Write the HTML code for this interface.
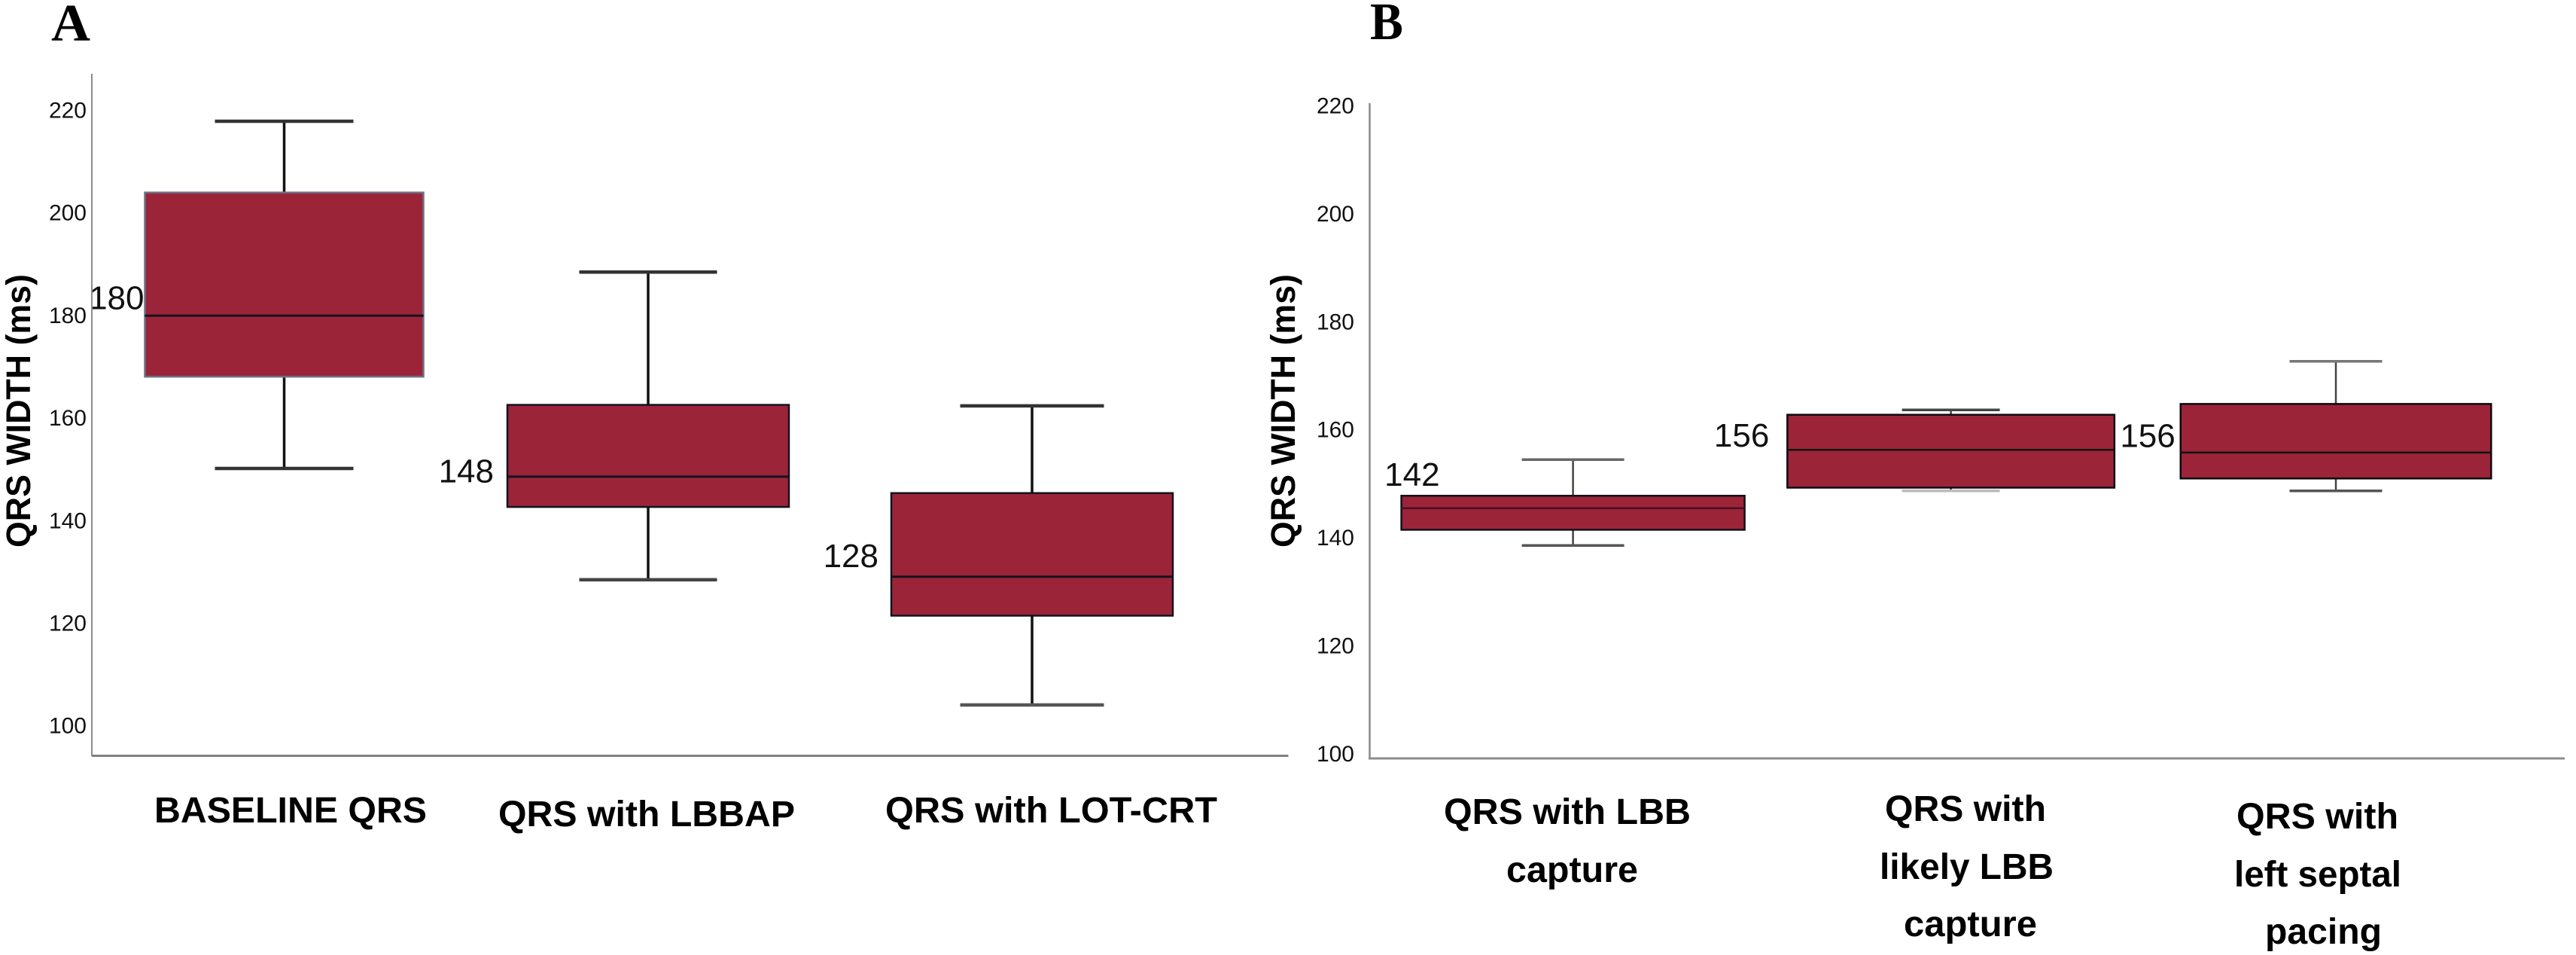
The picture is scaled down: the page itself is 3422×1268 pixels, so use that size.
<!DOCTYPE html>
<html lang="en">
<head>
<meta charset="utf-8">
<title>QRS width box plots</title>
<style>
html,body{margin:0;padding:0;background:#fff;width:3422px;height:1268px;overflow:hidden}
svg{display:block;font-family:"Liberation Sans",sans-serif}
</style>
</head>
<body>
<svg id="figure" xmlns="http://www.w3.org/2000/svg" width="3422" height="1268" viewBox="0 0 3422 1268">
  <rect width="3422" height="1268" fill="#fff"/>
  <text x="68" y="54" font-family="Liberation Serif, serif" font-weight="700" font-size="70" textLength="52" lengthAdjust="spacingAndGlyphs">A</text>
  <text x="1820" y="52" font-family="Liberation Serif, serif" font-weight="700" font-size="70" textLength="44" lengthAdjust="spacingAndGlyphs">B</text>

  <g>
    <g id="a-marks"></g>
    <line x1="122" y1="98" x2="122" y2="1004" stroke="#8c8c8c" stroke-width="2"/>
    <line x1="122" y1="1003.5" x2="1711.5" y2="1003.5" stroke="#808080" stroke-width="3"/>
    <text transform="translate(40,727) rotate(-90)" font-weight="700" font-size="45" textLength="363" lengthAdjust="spacingAndGlyphs">QRS WIDTH (ms)</text>
    <text x="205" y="1092" font-weight="700" font-size="48" textLength="362" lengthAdjust="spacingAndGlyphs">BASELINE QRS</text>
    <text x="662" y="1097" font-weight="700" font-size="48" textLength="394" lengthAdjust="spacingAndGlyphs">QRS with LBBAP</text>
    <text x="1176" y="1092" font-weight="700" font-size="48" textLength="441" lengthAdjust="spacingAndGlyphs">QRS with LOT-CRT</text>
  </g>

  <g>
    <g id="b-marks"></g>
    <line x1="1819.5" y1="137" x2="1819.5" y2="1008" stroke="#8c8c8c" stroke-width="2.5"/>
    <line x1="1818" y1="1007" x2="3407" y2="1007" stroke="#8c8c8c" stroke-width="3"/>
    <text transform="translate(1720,727) rotate(-90)" font-weight="700" font-size="45" textLength="363" lengthAdjust="spacingAndGlyphs">QRS WIDTH (ms)</text>
    <g font-weight="700" font-size="48">
      <text x="1918" y="1094" textLength="328" lengthAdjust="spacingAndGlyphs">QRS with LBB</text>
      <text x="2001" y="1171" textLength="175" lengthAdjust="spacingAndGlyphs">capture</text>
    </g>
    <g font-weight="700" font-size="48">
      <text x="2504" y="1090" textLength="214" lengthAdjust="spacingAndGlyphs">QRS with</text>
      <text x="2497" y="1167" textLength="231" lengthAdjust="spacingAndGlyphs">likely LBB</text>
      <text x="2529" y="1243" textLength="177" lengthAdjust="spacingAndGlyphs">capture</text>
    </g>
    <g font-weight="700" font-size="48">
      <text x="2971" y="1100" textLength="215" lengthAdjust="spacingAndGlyphs">QRS with</text>
      <text x="2968" y="1177" textLength="222" lengthAdjust="spacingAndGlyphs">left septal</text>
      <text x="3009" y="1253" textLength="155" lengthAdjust="spacingAndGlyphs">pacing</text>
    </g>
  </g>
</svg>
<script>
// ---- data ----
const tickValues = [220, 200, 180, 160, 140, 120, 100];

const aWhiskerHigh = [217.8, 188.4, 162.3];
const aQ3          = [203.9, 162.5, 145.3];
const aMedian      = [179.9, 148.5, 129.0];
const aQ1          = [168.0, 142.6, 121.4];
const aWhiskerLow  = [150.1, 128.4, 104.0];
const aPrinted     = [180, 148, 128];

const bWhiskerHigh = [154.7, 163.9, 172.9];
const bQ3          = [148.0, 163.0, 165.0];
const bMedian      = [145.7, 156.5, 156.0];
const bQ1          = [141.7, 149.5, 151.2];
const bWhiskerLow  = [138.8, 148.9, 148.9];
const bPrinted     = [142, 156, 156];

// ---- axis functions ----
function yA(v) { return 146 + (220 - v) * 6.81; }
function yB(v) { return 142 + (220 - v) * 7.17; }
function xA(i) { return 377.5 + i * 483.5 + (i === 2 ? 26.5 : 0); }
function xB(i) { return 2089.6 + i * 502 + (i === 2 ? 9.4 : 0); }

const NS = 'http://www.w3.org/2000/svg';
function make(parent, tag, attrs) {
  const el = document.createElementNS(NS, tag);
  for (const k in attrs) el.setAttribute(k, attrs[k]);
  parent.appendChild(el);
  return el;
}

function drawPanel(opts) {
  const root = document.getElementById(opts.rootId);
  const y = opts.y, x = opts.x;

  tickValues.forEach(function (t) {
    const label = make(root, 'text', {x: opts.tickRight, y: y(t) + opts.tickDy, 'text-anchor': 'end', 'font-size': 30, fill: '#111'});
    
    
    label.textContent = t;
  });

  opts.median.forEach(function (m, i) {
    const cx = x(i);
    const g = make(root, 'g', {});
    
    

    const stemHigh = make(g, 'line', {x1: cx, x2: cx, y1: y(opts.high[i]), y2: y(opts.q3[i]), stroke: opts.whisker, 'stroke-width': opts.stem});
    
    

    const stemLow = make(g, 'line', {x1: cx, x2: cx, y1: y(opts.q1[i]), y2: y(opts.low[i]), stroke: opts.whisker, 'stroke-width': opts.stem});
    
    

    const capW = opts.capWidth[i];
    const capHigh = make(g, 'line', {x1: cx - capW / 2, x2: cx + capW / 2, y1: y(opts.high[i]), y2: y(opts.high[i]), stroke: opts.capHighColor[i], 'stroke-width': opts.capStroke});
    
    

    const capLow = make(g, 'line', {x1: cx - capW / 2, x2: cx + capW / 2, y1: y(opts.low[i]), y2: y(opts.low[i]), stroke: opts.capLowColor[i], 'stroke-width': opts.capStroke});
    
    

    const w = opts.boxWidth[i];
    const box = make(g, 'rect', {x: cx - w / 2, y: y(opts.q3[i]), width: w, height: y(opts.q1[i]) - y(opts.q3[i]), fill: '#9b2439', stroke: opts.boxStroke[i], 'stroke-width': 2.5});
    
    

    const med = make(g, 'line', {x1: cx - w / 2, x2: cx + w / 2, y1: y(m), y2: y(m), stroke: opts.medianColor[i], 'stroke-width': opts.medianStroke});
    
    

    const val = make(g, 'text', {x: cx - w / 2 + opts.labelDx[i], y: y(m) + opts.labelDy[i] + 15.5, 'text-anchor': 'end', 'font-size': 44, fill: '#111'});
    
    
    val.textContent = opts.printed[i];
  });
}

drawPanel({
  rootId: 'a-marks', y: yA, x: xA, tickRight: 115, tickDy: 10.5,
  high: aWhiskerHigh, q3: aQ3, median: aMedian, q1: aQ1, low: aWhiskerLow, printed: aPrinted,
  whisker: '#111', stem: 3.5, capStroke: 4.5,
  capHighColor: ['#333', '#333', '#333'], capLowColor: ['#333', '#444', '#555'],
  boxWidth: [370, 374, 374], capWidth: [184, 183, 191],
  boxStroke: ['#6d7086', '#10131f', '#10131f'],
  medianColor: ['#15121f', '#15121f', '#15121f'], medianStroke: 3,
  labelDx: [-1, -18, -17], labelDy: [-24, -8, -28]
});

drawPanel({
  rootId: 'b-marks', y: yB, x: xB, tickRight: 1799, tickDy: 8.5,
  high: bWhiskerHigh, q3: bQ3, median: bMedian, q1: bQ1, low: bWhiskerLow, printed: bPrinted,
  whisker: '#444', stem: 2.5, capStroke: 3.5,
  capHighColor: ['#666', '#444', '#777'], capLowColor: ['#555', '#bbb', '#555'],
  boxWidth: [456, 434.5, 412.5], capWidth: [136, 130, 123],
  boxStroke: ['#14101a', '#0c0a10', '#0c0a10'],
  medianColor: ['#4a1020', '#111', '#111'], medianStroke: 2.5,
  labelDx: [51, -24, -7], labelDy: [-45, -20, -23]
});
</script>
</body>
</html>
